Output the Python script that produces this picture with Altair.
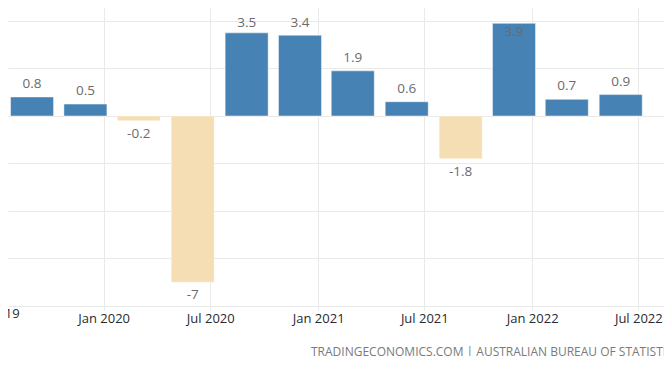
import altair as alt
import pandas as pd

# ---- data ----
quarters = ["2019-09-01", "2019-12-01", "2020-03-01", "2020-06-01",
            "2020-09-01", "2020-12-01", "2021-03-01", "2021-06-01",
            "2021-09-01", "2021-12-01", "2022-03-01", "2022-06-01"]
values = [0.8, 0.5, -0.2, -7.0, 3.5, 3.4, 1.9, 0.6, -1.8, 3.9, 0.7, 0.9]
value_labels = ["0.8", "0.5", "-0.2", "-7", "3.5", "3.4", "1.9", "0.6",
                "-1.8", "3.9", "0.7", "0.9"]
tick_dates = [(2020, 1), (2020, 7), (2021, 1), (2021, 7), (2022, 1), (2022, 7)]
cut_tick = ["2019-07-01"]
cut_tick_label = ["Jul 2019"]
y_grid = [-8, -6, -4, -2, 0, 2, 4]
source = "TRADINGECONOMICS.COM | AUSTRALIAN BUREAU OF STATISTICS"

df = pd.DataFrame({
    "d": [q + "T00:00:00" for q in quarters],
    "v": values,
    "lab": value_labels,
})

BLUE = "#4682b4"
WHEAT = "#f5deb3"
GRID = "#e9e9e9"
FONT = "Open Sans"

x_scale = alt.Scale(domain=[alt.DateTime(year=2019, month=7, date=30, hours=12),
                            alt.DateTime(year=2022, month=8, date=5, hours=7)],
                    nice=False)
y_scale = alt.Scale(domain=[-8, 4.547], nice=False, zero=False)

X = alt.X("d:T", scale=x_scale, title=None,
          axis=alt.Axis(values=[alt.DateTime(year=y, month=m, date=1) for y, m in tick_dates],
                        format="%b %Y", grid=True, gridColor=GRID, domain=False,
                        ticks=True, tickSize=4, tickColor=GRID,
                        labelFont=FONT, labelFontSize=13, labelColor="#2a2a2a",
                        labelPadding=2))
Y = alt.Y("v:Q", scale=y_scale, title=None,
          axis=alt.Axis(values=y_grid, grid=True, gridColor=GRID, labels=False,
                        ticks=False, domain=False))

base = alt.Chart(df)

bars = base.mark_bar(width=43, stroke="white", strokeWidth=1, strokeOpacity=0.45).encode(
    x=X, y=Y,
    color=alt.condition("datum.v >= 0", alt.value(BLUE), alt.value(WHEAT)),
)

lbl = dict(font=FONT, fontSize=13.5, color="#6b6b6b", baseline="middle", align="center")

above = base.transform_filter("datum.v >= 0 && datum.v < 3.7").transform_calculate(
    ly="min(datum.v, 3.37)").mark_text(dy=-13, **lbl).encode(
    x=alt.X("d:T"), y=alt.Y("ly:Q"), text="lab:N")

below = base.transform_filter("datum.v < 0").mark_text(dy=13, **lbl).encode(
    x=alt.X("d:T"), y=alt.Y("v:Q"), text="lab:N")

inside = base.transform_filter("datum.v >= 3.7").mark_text(dy=8.5, **lbl).encode(
    x=alt.X("d:T"), y=alt.Y("v:Q"), text="lab:N")

cut = alt.Chart(pd.DataFrame({"d": [c + "T00:00:00" for c in cut_tick],
                              "t": cut_tick_label})).mark_text(
    font=FONT, fontSize=13, color="#2a2a2a", baseline="top", align="center", dy=2).encode(
    x=alt.X("d:T"), y=alt.datum(-8), text="t:N")

footer = alt.Chart(pd.DataFrame({"t": [source]})).mark_text(
    font=FONT, fontSize=12, color="#7a7a7a", align="left", baseline="middle").encode(
    x=alt.value(303), y=alt.value(344), text="t:N")

chart = alt.layer(bars, above, below, inside, cut, footer).properties(
    width=656, height=298,
    autosize=alt.AutoSizeParams(type="none"),
    padding={"left": 0, "top": 0, "right": 0, "bottom": 50},
    background="white",
).configure_view(stroke=None)

chart.save("out.html", embed_options={"renderer": "svg", "actions": False})
